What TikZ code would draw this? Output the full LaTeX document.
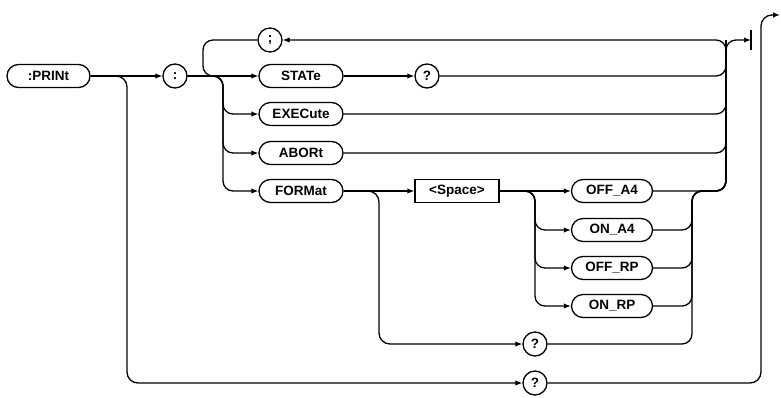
\documentclass[tikz,border=0pt]{standalone}
\usepackage{fontspec}
\setmainfont{Liberation Sans}
\usetikzlibrary{arrows.meta,calc}
\begin{document}
\begin{tikzpicture}[x=1pt,y=-1pt,
  kw/.style={draw, line width=1.3pt, rounded corners=11.5pt, minimum height=23pt, minimum width=84pt, inner sep=0pt, font=\fontsize{13.5}{15}\selectfont\bfseries},
  opt/.style={kw, minimum width=81pt},
  sym/.style={draw, line width=1.3pt, circle, minimum size=24pt, inner sep=0pt, font=\fontsize{13.5}{15}\selectfont\bfseries},
  sbox/.style={draw, line width=1.3pt, rectangle, minimum height=23pt, minimum width=84pt, inner sep=0pt, font=\fontsize{13.5}{15}\selectfont\bfseries},
  ln/.style={line width=1.3pt, rounded corners=10pt},
  arr/.style={ln, -{Latex[length=7pt,width=5.5pt]}}]
\path[use as bounding box] (0,0) rectangle (781,397);

% nodes
\node[kw, minimum width=83pt] (print) at (48.5,76) {:PRINt};
\node[sym] (colon) at (175,76) {:};
\node[sym] (semi) at (270,40) {;};
\node[kw] (state) at (301,76) {STATe};
\node[sym] (qstate) at (427,76) {?};
\node[kw] (exec) at (301,114) {EXECute};
\node[kw] (abort) at (301,153) {ABORt};
\node[kw] (format) at (301,191) {FORMat};
\node[sbox] (space) at (457,191) {<Space>};
\node[opt] (offa4) at (612,191) {OFF\_A4};
\node[opt] (ona4) at (612,230) {ON\_A4};
\node[opt] (offrp) at (612,268) {OFF\_RP};
\node[opt] (onrp) at (612,306) {ON\_RP};
\node[sym] (qfmt) at (535,344) {?};
\node[sym] (qprint) at (535,383) {?};
\node[minimum height=19pt, minimum width=0pt, inner sep=0pt] (term) at (751,40) {};
\coordinate (fin) at (780,15);

% helper x positions
\coordinate (bp) at (127,0);
\coordinate (lp) at (203,0);
\coordinate (lpe) at (216,0);
\coordinate (br) at (223,0);
\coordinate (mx) at (726,0);
\coordinate (fx) at (379,0);
\coordinate (sx) at (535,0);
\coordinate (ox) at (692,0);
\coordinate (ex) at (761,0);

% terminator bar
\draw[line width=1.5pt] (term.north) -- (term.south);

% main line
\draw[arr] (print.east) -- (colon.west);
\draw[arr, rounded corners=11pt] (print.east) -| (bp |- qprint) -- (qprint.west);
\draw[arr, rounded corners=11pt] (qprint.east) -| (ex |- fin) -- (fin);

% branches after colon
\draw[arr] (colon.east) -- (state.west);
\draw[arr] (colon.east) -| (br |- exec) -- (exec.west);
\draw[arr] (colon.east) -| (br |- abort) -- (abort.west);
\draw[arr] (colon.east) -| (br |- format) -- (format.west);

% semicolon loop
\draw[arr] (mx |- exec) |- (semi.east);
\draw[ln] (semi.west) -| (lp |- colon) -- (lpe |- colon);

% exit
\draw[arr] (mx |- exec) |- (term.center);

% merges
\draw[arr] (state.east) -- (qstate.west);
\draw[ln] (qstate.east) -| (mx |- semi);
\draw[ln] (exec.east) -| (mx |- semi);
\draw[ln] (abort.east) -| (mx |- semi);

% FORMat part
\draw[arr] (format.east) -- (space.west);
\draw[arr, rounded corners=11pt] (format.east) -| (fx |- qfmt) -- (qfmt.west);
\draw[arr] (space.east) -- (offa4.west);
\draw[arr] (space.east) -| (sx |- ona4) -- (ona4.west);
\draw[arr] (space.east) -| (sx |- offrp) -- (offrp.west);
\draw[arr] (space.east) -| (sx |- onrp) -- (onrp.west);
\draw[ln] (offa4.east) -| (mx |- semi);
\draw[ln] (ona4.east) -| (ox |- offa4) -| (mx |- semi);
\draw[ln] (offrp.east) -| (ox |- offa4) -| (mx |- semi);
\draw[ln] (onrp.east) -| (ox |- offa4) -| (mx |- semi);
\draw[ln] (qfmt.east) -| (ox |- offa4) -| (mx |- semi);
\end{tikzpicture}
\end{document}
